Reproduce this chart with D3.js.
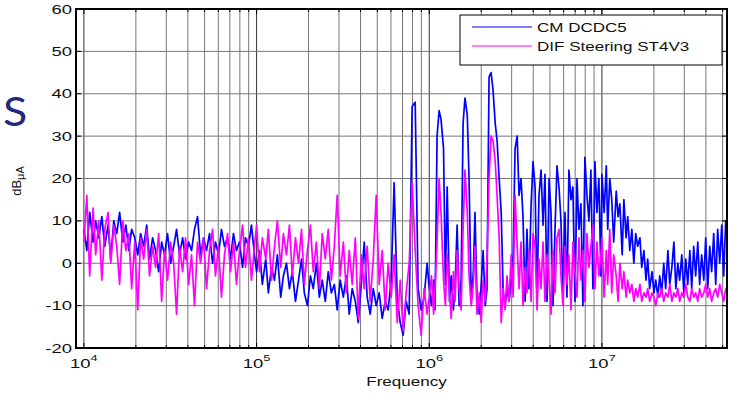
<!DOCTYPE html>
<html>
<head>
<meta charset="utf-8">
<script src="https://cdn.jsdelivr.net/npm/d3@7"></script>
<style>
  body { margin: 0; background: #fff; }
  svg { display: block; }
  text { font-family: Arial, "Liberation Sans", sans-serif; fill: #111; }
</style>
</head>
<body>
<div class="chart"></div>
<script>
// frequency points (Hz), shared by both traces
const freq = [
  1.00e4,1.04e4,1.08e4,1.13e4,1.17e4,1.22e4,1.27e4,1.32e4,1.38e4,1.43e4,1.49e4,1.55e4,1.61e4,1.68e4,1.75e4,
  1.82e4,1.89e4,1.97e4,2.05e4,2.13e4,2.22e4,2.31e4,2.40e4,2.50e4,2.60e4,2.71e4,2.82e4,2.93e4,3.05e4,3.18e4,
  3.31e4,3.44e4,3.58e4,3.73e4,3.88e4,4.04e4,4.20e4,4.37e4,4.55e4,4.74e4,4.93e4,5.13e4,5.34e4,5.56e4,5.78e4,
  6.02e4,6.26e4,6.52e4,6.79e4,7.06e4,7.35e4,7.65e4,7.96e4,8.29e4,8.62e4,8.98e4,9.34e4,9.72e4,
  1.00e5,1.04e5,1.08e5,1.13e5,1.17e5,1.22e5,1.27e5,1.32e5,1.38e5,1.43e5,1.49e5,1.55e5,1.61e5,1.68e5,1.75e5,
  1.82e5,1.89e5,1.97e5,2.05e5,2.13e5,2.22e5,2.31e5,2.40e5,2.50e5,2.60e5,2.71e5,2.82e5,2.93e5,3.05e5,3.18e5,
  3.31e5,3.44e5,3.58e5,3.73e5,3.88e5,4.04e5,4.20e5,4.37e5,4.55e5,4.74e5,4.93e5,5.13e5,5.34e5,5.56e5,5.78e5,
  6.02e5,6.26e5,6.52e5,6.79e5,7.06e5,7.35e5,7.65e5,7.96e5,8.29e5,8.62e5,8.98e5,9.34e5,9.72e5,
  1.00e6,1.03e6,1.06e6,1.08e6,1.11e6,1.14e6,1.17e6,1.21e6,1.24e6,1.27e6,1.31e6,1.34e6,1.38e6,1.41e6,1.45e6,
  1.49e6,1.53e6,1.57e6,1.61e6,1.66e6,1.70e6,1.75e6,1.80e6,1.84e6,1.89e6,1.95e6,2.00e6,2.05e6,2.11e6,2.16e6,
  2.22e6,2.28e6,2.34e6,2.41e6,2.47e6,2.54e6,2.61e6,2.68e6,2.75e6,2.82e6,2.90e6,2.98e6,3.06e6,3.14e6,3.23e6,
  3.31e6,3.40e6,3.49e6,3.59e6,3.68e6,3.78e6,3.89e6,3.99e6,4.10e6,4.21e6,4.32e6,4.44e6,4.56e6,4.68e6,4.81e6,
  4.94e6,5.07e6,5.21e6,5.35e6,5.49e6,5.64e6,5.79e6,5.95e6,6.11e6,6.27e6,6.44e6,6.62e6,6.79e6,6.98e6,7.17e6,
  7.36e6,7.56e6,7.76e6,7.97e6,8.19e6,8.41e6,8.63e6,8.87e6,9.11e6,9.35e6,9.60e6,9.86e6,
  1.00e7,1.03e7,1.06e7,1.08e7,1.11e7,1.14e7,1.17e7,1.21e7,1.24e7,1.27e7,1.31e7,1.34e7,1.38e7,1.41e7,1.45e7,
  1.49e7,1.53e7,1.57e7,1.61e7,1.66e7,1.70e7,1.75e7,1.80e7,1.84e7,1.89e7,1.95e7,2.00e7,2.05e7,2.11e7,2.16e7,
  2.22e7,2.28e7,2.34e7,2.41e7,2.47e7,2.54e7,2.61e7,2.68e7,2.75e7,2.82e7,2.90e7,2.98e7,3.06e7,3.14e7,3.23e7,
  3.31e7,3.40e7,3.49e7,3.59e7,3.68e7,3.78e7,3.89e7,3.99e7,4.10e7,4.21e7,4.32e7,4.44e7,4.56e7,4.68e7,4.81e7,
  4.94e7,5.07e7,5.21e7,5.35e7
];

// CM DCDC5 (dBuA)
const cmDcdc5 = [
  8,3,12,5,10,6,11,4,9,1, 10,7,12,5,9,3,8,6,2,7, 4,9,1,6,3,-2,5,2,7,0, 4,8,2,6,1,5,3,8,11,2,
  6,3,7,0,5,2,8,4,6,1, 7,3,5,-1,6,4,9,2,
  -2,3,-5,1,-7,-1,-4,2,-8,-3, 0,-6,-2,-9,-4,1,-7,-10,-3,-6, 0,-8,-4,-9,-2,-7,-5,-11,-4,-8,
  -3,-12,-6,-9,-14,-5,5,-8,-12,-6, -10,-7,-13,-9,-11,-4,19,-8,-14,-17, -9,-12,37,38,-6,-11,-8,0,
  -6,-10,-4,-11,30,36,34,27,-5,18, -9,-3,-11,-6,9,-10,-4,33,39,35, 20,-9,-2,12,-8,-12,-5,3,-10,-6,
  44,45,41,33,29,20,12,-7,-10,-6, -9,-4,2,27,30,16,20,11,-9,8, -6,14,24,18,-8,16,22,9,21,-9,
  20,12,-10,8,23,18,10,-7,12,-8, 22,15,18,-9,20,8,14,-10,25,16, 10,22,-6,24,12,20,-3,
  21,12,23,8,20,15,5,17,11,14, 2,15,6,11,3,8,0,7,4,6, -1,3,-4,1,-6,-2,-7,-4,-8,-3,
  -7,0,-6,3,-5,-1,5,-6,0,-4, 2,-7,1,-5,3,-6,4,-3,5,-5, 2,-4,6,-6,4,-2,7,-5,8,0, 9,-3,10,4
];

// DIF Steering ST4V3 (dBuA)
const difSteering = [
  5,16,-3,13,2,10,-4,8,12,0, 9,4,-5,10,3,7,-6,5,-11,6, 1,8,-3,4,-1,7,-9,3,-4,5, 0,-12,4,-2,6,-5,2,-10,5,0,
  6,-6,3,8,-3,4,-8,2,7,-2, 5,-5,3,9,-1,6,-4,4,
  9,-2,6,1,8,-4,4,10,-1,7, 2,9,-3,6,0,8,-5,3,9,-2, 5,-6,7,1,8,-4,4,16,-3,5,
  -7,3,-5,6,-13,2,-6,4,-9,1, 16,-5,3,-11,0,-8,2,-14,-4,-16, -7,0,19,3,-10,-17,-6,-12,
  -8,-3,-12,-6,5,20,12,-4,-10,2, -7,-13,-2,-9,3,-6,-11,8,22,12, -3,-10,-5,4,-12,-7,-14,-4,-9,1,
  20,30,29,24,16,6,-14,-6,-11,-3, -9,2,-8,16,4,-6,5,-10,-1,-7, 3,-9,7,4,-11,1,-6,5,-9,2,
  -4,-12,3,-7,6,8,-3,-10,4,-5, 2,-11,5,-2,-8,6,-4,3,-9,7, -1,4,9,-6,5,-3,2,
  6,-8,3,-5,8,-7,2,-3,-9,0, -6,-2,-8,-4,-7,-5,-9,-6,-8,-5, -9,-7,-8,-6,-9,-7,-8,-10,-7,-8,
  -6,-9,-7,-8,-5,-9,-7,-8,-6,-9, -7,-8,-5,-8,-9,-6,-8,-7,-9,-6, -8,-7,-5,-8,-6,-9,-7,-6,-8,-5, -7,-9,-6,-7
];

const seriesNames = ["CM DCDC5", "DIF Steering ST4V3"];
const seriesColors = ["#0000ff", "#ff00ff"];
const yTicks = [-20, -10, 0, 10, 20, 30, 40, 50, 60];
const xDecades = [1e4, 1e5, 1e6, 1e7];
const xExponents = ["4", "5", "6", "7"];

const stretch = 1.42; // text in the source image is stretched sideways

function init() {
    let margin = { top: 9, right: 4, bottom: 49, left: 76 };
    let width = 731 - margin.left - margin.right;
    let height = 397 - margin.top - margin.bottom;

    let xScale = d3.scaleLog().domain([9e3, 5.3e7]).range([0, width]);
    let yScale = d3.scaleLinear().domain([-20, 60]).range([height, 0]);

    let svg = d3.select(".chart").append("svg")
        .attr("width", 731)
        .attr("height", 397);

    // stray slide letter on the left
    svg.append("text")
        .attr("transform", "translate(3,126) scale(1.12,1)")
        .style("font-family", "Lato, 'Open Sans', sans-serif")
        .style("font-size", "40px")
        .style("fill", "#25297a")
        .text("S");

    let plot = svg.append("g").attr("transform", `translate(${margin.left},${margin.top})`);

    svg.append("defs").append("clipPath").attr("id", "clip")
        .append("rect").attr("width", width).attr("height", height);

    // grid
    let minor = xScale.ticks().filter(d => xScale(d) > 3 && xScale(d) < width - 3);
    plot.append("g").selectAll("line").data(minor).enter().append("line")
        .attr("x1", d => xScale(d)).attr("x2", d => xScale(d))
        .attr("y1", 0).attr("y2", height)
        .attr("stroke", d => xDecades.includes(d) ? "#333" : "#777")
        .attr("stroke-width", 1);
    plot.append("g").selectAll("line").data(yTicks.slice(1, -1)).enter().append("line")
        .attr("x1", 0).attr("x2", width)
        .attr("y1", d => yScale(d)).attr("y2", d => yScale(d))
        .attr("stroke", "#777").attr("stroke-width", 1);

    // traces
    let line = d3.line().x(d => xScale(d[0])).y(d => yScale(d[1]));
    let traces = [cmDcdc5, difSteering];
    let lines = plot.append("g").attr("clip-path", "url(#clip)");
    traces.forEach((vals, i) => {
        lines.append("path")
            .datum(freq.map((f, j) => [f, vals[j]]))
            .attr("fill", "none")
            .attr("stroke", seriesColors[i])
            .attr("stroke-width", 1.7)
            .attr("stroke-linejoin", "round")
            .attr("d", line);
    });

    // ticks (inward, both sides)
    let tk = plot.append("g").attr("stroke", "#000").attr("stroke-width", 1);
    minor.forEach(d => {
        let len = xDecades.includes(d) ? 5 : 3;
        tk.append("line").attr("x1", xScale(d)).attr("x2", xScale(d)).attr("y1", height).attr("y2", height - len);
        tk.append("line").attr("x1", xScale(d)).attr("x2", xScale(d)).attr("y1", 0).attr("y2", len);
    });
    yTicks.forEach(d => {
        tk.append("line").attr("x1", 0).attr("x2", 5).attr("y1", yScale(d)).attr("y2", yScale(d));
        tk.append("line").attr("x1", width).attr("x2", width - 5).attr("y1", yScale(d)).attr("y2", yScale(d));
    });

    // frame
    plot.append("rect")
        .attr("width", width).attr("height", height)
        .attr("fill", "none").attr("stroke", "#000").attr("stroke-width", 2);

    // y tick labels
    plot.append("g").selectAll("text").data(yTicks).enter().append("text")
        .attr("transform", d => `translate(-4,${yScale(d) + 4.5}) scale(${stretch},1)`)
        .attr("text-anchor", "end")
        .style("font-size", "13px")
        .text(d => d);

    // x tick labels 10^n
    xDecades.forEach((d, i) => {
        let t = plot.append("text")
            .attr("transform", `translate(${xScale(d)},${height + 20}) scale(${stretch},1)`)
            .attr("text-anchor", "middle")
            .style("font-size", "13px");
        t.append("tspan").text("10");
        t.append("tspan").attr("dy", -7).style("font-size", "9px").text(xExponents[i]);
    });

    // axis titles
    plot.append("text")
        .attr("transform", `translate(${width / 2 + 5},${height + 38}) scale(${stretch},1)`)
        .attr("text-anchor", "middle")
        .style("font-size", "12px")
        .text("Frequency");

    let yl = svg.append("text")
        .attr("transform", "translate(21,181) rotate(-90)")
        .attr("text-anchor", "middle")
        .style("font-size", "13px");
    yl.append("tspan").text("dB");
    yl.append("tspan").attr("dy", 3).style("font-size", "11px").text("\u03bcA");

    // legend
    let lg = svg.append("g").attr("transform", "translate(460,15)");
    lg.append("rect").attr("width", 262).attr("height", 50)
        .attr("fill", "#fff").attr("stroke", "#000").attr("stroke-width", 1);
    seriesNames.forEach((name, i) => {
        let yy = 12 + i * 19;
        lg.append("line").attr("x1", 12).attr("x2", 72).attr("y1", yy).attr("y2", yy)
            .attr("stroke", seriesColors[i]).attr("stroke-width", 1);
        lg.append("text")
            .attr("transform", `translate(77,${yy + 5}) scale(${stretch},1)`)
            .style("font-size", "12px")
            .text(name);
    });
}

init();
</script>
</body>
</html>
